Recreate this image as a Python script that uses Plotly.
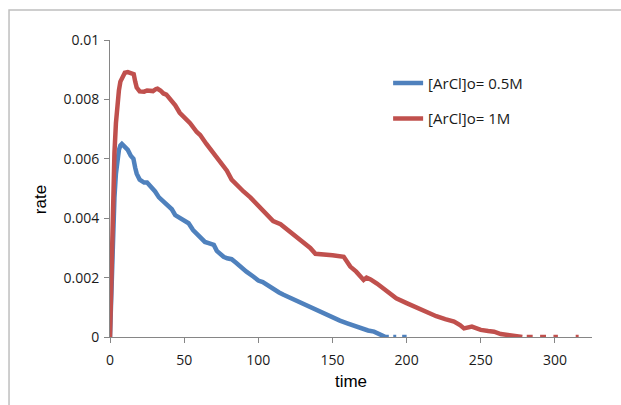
import plotly.graph_objects as go

# Reaction rate vs time for two initial ArCl concentrations
time_05 = [0, 1, 2, 3, 4, 5, 6, 7, 8, 9, 10, 12, 14, 15.8, 17, 18, 20, 23, 25, 27, 29,
           30.4, 33, 36, 39, 41.7, 44, 47, 50, 53, 56, 58, 60.8, 64, 67, 70, 72, 76.6,
           79, 82, 85, 87.8, 92, 96.8, 100, 103, 105.9, 110, 114, 117, 120, 124, 128,
           132, 137, 140, 143, 146, 151, 155, 160, 165, 169, 174, 178, 182.4, 185.8,
           188, None, 191, 193, None, 197, 200]
rate_05 = [0, 0.0020, 0.0036, 0.0047, 0.0055, 0.0060, 0.0063, 0.00645, 0.0065, 0.00645,
           0.0064, 0.0063, 0.0061, 0.0060, 0.0057, 0.0055, 0.0053, 0.0052, 0.0052, 0.0051,
           0.0050, 0.0049, 0.0047, 0.00456, 0.0044, 0.0043, 0.0041, 0.0040, 0.0039,
           0.00383, 0.0036, 0.0035, 0.00335, 0.0032, 0.00315, 0.0031, 0.0029, 0.0027,
           0.00265, 0.00262, 0.0025, 0.00237, 0.0022, 0.00203, 0.0019, 0.00185, 0.00175,
           0.0016, 0.0015, 0.00142, 0.00135, 0.00125, 0.00114, 0.00105, 0.00097, 0.0009,
           0.0008, 0.00074, 0.00063, 0.00055, 0.00046, 0.00037, 0.00029, 0.00022,
           0.00018, 0.00007, 0, 0, None, 0, 0, None, 0, 0]

time_1 = [0, 0.5, 1, 1.5, 2, 3, 4, 5, 6, 7, 8, 9, 10, 12, 14, 16, 17, 18, 20, 23, 25,
          27, 29, 31, 32, 34, 36, 38, 41, 44, 47, 50, 54, 58.5, 60.8, 65, 69.8, 74, 78.8,
          82, 85.6, 90, 94.6, 100, 103.6, 106, 110, 115, 120, 126, 130, 135, 138.5, 142,
          150, 157.6, 160, 162, 166, 171, 173, 175.7, 180, 187, 193, 200, 207, 214, 220,
          226, 229.7, 232, 236, 238.7, 244, 247, 250, 255, 259, 263.5, 269, 272, 275,
          278, None, 281, 285, None, 290, 294, None, 299, 302, None, 314, 316]
rate_1 = [0, 0.0010, 0.0025, 0.0040, 0.0052, 0.0062, 0.0072, 0.0079, 0.0083, 0.0086,
          0.0087, 0.0088, 0.0089, 0.00892, 0.0089, 0.00885, 0.0086, 0.0084, 0.00827,
          0.00826, 0.0083, 0.0083, 0.00828, 0.00835, 0.00836, 0.0083, 0.0082, 0.00816,
          0.0080, 0.0078, 0.00755, 0.0074, 0.0072, 0.0069, 0.0068, 0.0065, 0.0062, 0.0059,
          0.0056, 0.0053, 0.0051, 0.0049, 0.0047, 0.0044, 0.0042, 0.0041, 0.0039, 0.0038,
          0.0036, 0.0034, 0.0032, 0.0030, 0.0028, 0.00279, 0.00275, 0.0027, 0.0025,
          0.00237, 0.0022, 0.00192, 0.0020, 0.00194, 0.0018, 0.00153, 0.0013, 0.00114,
          0.00098, 0.0008, 0.0007, 0.0006, 0.00057, 0.00052, 0.0004, 0.00029, 0.00035,
          0.0003, 0.00024, 0.0002, 0.00018, 0.0001, 0.00007, 0.00003, 0, 0, None, 0, 0,
          None, 0, 0, None, 0, 0, None, 0, 0]

series_names = ["[ArCl]o= 0.5M", "[ArCl]o= 1M"]
series_colors = ["#4F81BD", "#C0504D"]

x_ticks = [0, 50, 100, 150, 200, 250, 300]
y_ticks = [0, 0.002, 0.004, 0.006, 0.008, 0.01]
y_tick_text = ["0", "0.002", "0.004", "0.006", "0.008", "0.01"]

axis_grey = "#868686"
tick_font = dict(family="Open Sans", size=14, color="#1a1a1a")
title_font = dict(family="Liberation Sans", size=17, color="black")

fig = go.Figure()
for i, (xs, ys) in enumerate([(time_05, rate_05), (time_1, rate_1)]):
    fig.add_trace(go.Scatter(
        x=xs, y=ys, mode="lines", name=series_names[i],
        legendgroup=f"g{i}", connectgaps=False,
        line=dict(color=series_colors[i], width=4.5),
    ))

fig.update_layout(
    width=621, height=405,
    margin=dict(l=110, r=29, t=40, b=68),
    paper_bgcolor="white", plot_bgcolor="white",
    legend=dict(
        x=0.577, y=0.91, xanchor="left", yanchor="top",
        font=dict(family="Open Sans", size=15, color="#1a1a1a"),
        tracegroupgap=13, bgcolor="rgba(0,0,0,0)",
    ),
    xaxis=dict(
        range=[0, 325], tickvals=x_ticks, showgrid=False, zeroline=False,
        showline=True, linecolor=axis_grey, linewidth=1,
        ticks="outside", ticklen=5, tickcolor=axis_grey, tickfont=tick_font,
        ticklabelstandoff=5,
        title=dict(text="time", font=title_font, standoff=7),
    ),
    yaxis=dict(
        range=[0, 0.01], tickvals=y_ticks, ticktext=y_tick_text,
        showgrid=False, zeroline=False,
        showline=True, linecolor=axis_grey, linewidth=1,
        ticks="outside", ticklen=5, tickcolor=axis_grey, tickfont=tick_font,
        ticklabelstandoff=2,
    ),
    annotations=[dict(text="rate", textangle=-90, xref="paper", yref="paper",
                      x=-0.145, y=0.461, xanchor="center", yanchor="middle",
                      showarrow=False, font=title_font)],
    shapes=[dict(type="rect", xref="paper", yref="paper",
                 x0=-0.2095, x1=1.3, y0=-0.5, y1=1.101,
                 line=dict(color="#BFBFBF", width=1.5), layer="below")],
)

fig.write_html("out.html")
